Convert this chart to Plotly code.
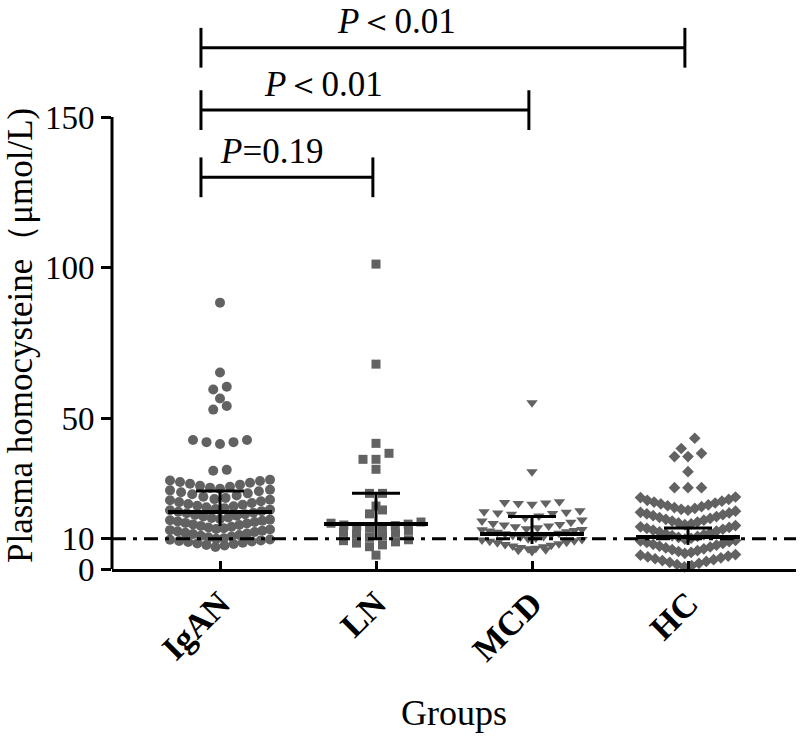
import math
from collections import defaultdict
import plotly.graph_objects as go

# ---------------- data ----------------
groups = ["IgAN", "LN", "MCD", "HC"]

igan = [7.3, 7.8, 8.0, 8.3, 8.5, 8.7, 9.0, 9.1, 9.3, 9.5, 9.7, 9.8,
        10.0, 10.2, 10.5, 10.8, 11.0, 11.3, 11.6, 11.8, 12.0, 12.3, 12.5, 12.7, 12.9, 13.1,
        13.3, 13.5, 13.8, 14.0, 14.3, 14.6, 14.8, 15.1, 15.3, 15.6, 15.8, 16.0, 16.2, 16.4,
        16.6, 16.9, 17.1, 17.4, 17.7, 17.9, 18.2, 18.5, 18.7, 19.0, 19.2, 19.5, 19.7,
        19.9, 20.2, 20.5, 20.8, 21.0, 21.3, 21.6, 21.9, 22.2, 22.5, 22.8, 23.0,
        23.2, 23.6, 24.0, 24.4, 24.8, 25.1, 25.5, 25.8, 26.1, 26.3,
        26.6, 27.0, 27.3, 27.6, 28.0, 28.3, 28.6, 28.9, 29.2, 29.4, 29.6,
        32.6, 32.9, 41.5, 42.1, 42.1, 42.8, 42.8,
        52.9, 54.1, 56.6, 59.6, 60.5, 65.2, 88.4]

ln = [4.6, 7.4, 8.0, 8.6, 9.0, 9.4, 9.7,
      10.5, 11.0, 11.5, 11.9, 12.3, 12.8,
      13.5, 13.8, 14.1, 14.4, 14.6, 14.9, 15.2, 15.6,
      18.3, 19.6, 20.9, 25.1, 25.1, 33.1, 36.4, 36.4, 38.4, 41.7, 68.0, 101.2]

mcd = [5.8, 6.2, 6.4,
       6.7, 6.9, 7.1, 7.4, 7.6, 7.9, 8.1, 8.4, 8.7, 8.9, 9.2, 9.4, 9.6, 9.8,
       10.0, 10.3, 10.6, 10.8, 11.1, 11.4, 11.7, 11.9, 12.2, 12.4, 12.6, 12.8, 13.0, 13.1,
       13.4, 13.7, 14.0, 14.3, 14.6, 14.8, 15.1, 15.5, 15.9, 16.3,
       17.0, 17.6, 18.2, 18.4, 18.6, 18.8, 19.0, 19.3,
       21.5, 21.7, 21.9, 22.1, 22.3, 32.3, 55.2]

hc = [0.7, 1.1, 1.5, 1.9, 2.2, 2.5, 2.8, 3.1, 3.4, 3.7, 4.0, 4.3, 4.6, 4.8,
      5.2, 5.5, 5.8, 6.1, 6.4, 6.7, 7.0, 7.3, 7.6, 7.9, 8.2, 8.5, 8.8, 9.1, 9.3, 9.5,
      9.9, 10.2, 10.5, 10.8, 11.1, 11.4, 11.7, 12.0, 12.3, 12.6, 12.9, 13.2, 13.5, 13.8, 14.0,
      14.4, 14.7, 15.0, 15.3, 15.6, 15.9, 16.2, 16.5, 16.8, 17.1, 17.4, 17.7, 18.0, 18.3, 18.6, 18.8,
      19.2, 19.5, 19.8, 20.1, 20.4, 20.7, 21.0, 21.3, 21.6, 21.9, 22.2, 22.5, 22.8, 23.1,
      23.7, 23.9, 27.0, 27.0, 27.0, 32.3, 37.3, 37.3, 38.4, 40.0, 43.4]

centre_vals = [18.9, 14.9, 11.6, 10.6]
upper_vals = [25.9, 25.1, 17.4, 13.6]
lower_vals = [14.3, 9.8, 8.3, 8.0]

y_tick_vals = [0, 10, 50, 100, 150]
reference_level = 10

comp_groups = [(0, 1), (0, 2), (0, 3)]
comp_labels = ["<i>P</i>=0.19", "<i>P</i>＜0.01", "<i>P</i>＜0.01"]
comp_heights = [130, 152.3, 173]

# ---------------- layout helpers ----------------
W, H = 800, 739
ML, MR, MT, MB = 112, 4, 0, 170
PX_CAT = 156.0
x_range = [-108 / PX_CAT, (W - MR - ML - 108) / PX_CAT]
plot_h = H - MT - MB
PX_UNIT = 3.013
y_range = [0, plot_h / PX_UNIT]

GREY = "rgb(98,98,98)"
FONT = "Liberation Serif, Times New Roman, serif"

series = [igan, ln, mcd, hc]
symbols = ["circle", "square", "triangle-down", "diamond"]
sizes = [10, 9, 10, 9]
bin_h = [3.3, 3.3, 3.3, 4.8]
bin_o = [0.0, 0.0, 0.0, 0.3]
base_px = [13.5, 13.0, 13.7, 13.5]
max_px = [100, 90, 100, 95]


def swarm(vals, h, origin, bpx, mpx):
    bins = defaultdict(list)
    for v in vals:
        bins[math.floor((v - origin) / h)].append(v)
    xs, ys = [], []
    for k, b in bins.items():
        b = sorted(b)
        n = len(b)
        sp = bpx if n <= 1 else min(bpx, mpx / (n - 1))
        if n % 2:
            slots = [0]
            for i in range(1, n // 2 + 1):
                slots += [-i, i]
        else:
            slots = []
            for i in range(n // 2):
                slots += [-(i + 0.5), i + 0.5]
        for v, s in zip(b, slots):
            xs.append(s * sp / PX_CAT)
            ys.append(v)
    return xs, ys


fig = go.Figure()

for gi, vals in enumerate(series):
    dx, yy = swarm(vals, bin_h[gi], bin_o[gi], base_px[gi], max_px[gi])
    fig.add_trace(go.Scatter(
        x=[gi + d for d in dx], y=yy, mode="markers",
        marker=dict(symbol=symbols[gi], size=sizes[gi], color=GREY, line=dict(width=0)),
        cliponaxis=False, showlegend=False, hoverinfo="skip"))

# centre lines
mx, my = [], []
for gi, c in enumerate(centre_vals):
    mx += [gi - 0.333, gi + 0.333, None]
    my += [c, c, None]
fig.add_trace(go.Scatter(x=mx, y=my, mode="lines", line=dict(color="black", width=4),
                         showlegend=False, hoverinfo="skip"))

# whiskers (cap at the top only)
wx, wy = [], []
cap = 24 / PX_CAT
for gi, (lo, up) in enumerate(zip(lower_vals, upper_vals)):
    wx += [gi, gi, None, gi - cap, gi + cap, None]
    wy += [lo, up, None, up, up, None]
fig.add_trace(go.Scatter(x=wx, y=wy, mode="lines", line=dict(color="black", width=3),
                         showlegend=False, hoverinfo="skip"))

shapes = []
shapes.append(dict(type="line", xref="paper", yref="y", x0=0, x1=0, y0=0, y1=max(y_tick_vals),
                   line=dict(color="black", width=3)))
shapes.append(dict(type="line", xref="paper", yref="y", x0=0, x1=1, y0=reference_level, y1=reference_level,
                   line=dict(color="black", width=3, dash="14px,7px,4px,7px"), layer="above"))

annotations = []
label_left = [-0.013, 0.269, 0.737]
for (a, b), lab, hgt, lx in zip(comp_groups, comp_labels, comp_heights, label_left):
    xl = a - 0.122
    xr = b - 0.02
    tick = 6.6
    shapes.append(dict(type="line", xref="x", yref="y", x0=xl, x1=xr, y0=hgt, y1=hgt,
                       line=dict(color="black", width=3)))
    shapes.append(dict(type="line", xref="x", yref="y", x0=xl, x1=xl, y0=hgt - tick, y1=hgt + tick,
                       line=dict(color="black", width=3)))
    shapes.append(dict(type="line", xref="x", yref="y", x0=xr, x1=xr, y0=hgt - tick, y1=hgt + tick,
                       line=dict(color="black", width=3)))
    annotations.append(dict(x=lx, y=hgt + 8.6, xref="x", yref="y", text=lab, showarrow=False,
                            xanchor="left", yanchor="middle",
                            font=dict(family=FONT, size=35, color="black")))

annotations.append(dict(x=0.5, y=(plot_h - 713) / plot_h, xref="paper", yref="paper", text="Groups",
                        showarrow=False, xanchor="center", yanchor="middle",
                        font=dict(family=FONT, size=36, color="black")))
annotations.append(dict(x=(20 - ML) / (W - ML - MR), y=(plot_h - 336) / plot_h, xref="paper", yref="paper",
                        text="Plasma homocysteine（μmol/L)", textangle=-90, showarrow=False,
                        xanchor="center", yanchor="middle",
                        font=dict(family=FONT, size=35, color="black")))

fig.update_layout(
    width=W, height=H, margin=dict(l=ML, r=MR, t=MT, b=MB, autoexpand=False),
    paper_bgcolor="white", plot_bgcolor="white",
    shapes=shapes, annotations=annotations, showlegend=False,
    xaxis=dict(range=x_range, tickvals=list(range(len(groups))),
               ticktext=["<b>%s</b>" % g for g in groups], tickangle=-45,
               tickfont=dict(family=FONT, size=34, color="black"),
               showline=True, linecolor="black", linewidth=3, ticks="inside", ticklen=8,
               tickwidth=3, tickcolor="black", showgrid=False, zeroline=False,
               ticklabelstandoff=-2, automargin=False),
    yaxis=dict(range=y_range, tickvals=y_tick_vals, ticks="outside", ticklen=10, tickwidth=3,
               tickcolor="black", tickfont=dict(family=FONT, size=33, color="black"),
               showline=False, showgrid=False, zeroline=False, automargin=False),
)

fig.write_html("out.html", config={"displayModeBar": False},
               post_script="document.body.style.margin='0';document.body.style.overflow='hidden';")
